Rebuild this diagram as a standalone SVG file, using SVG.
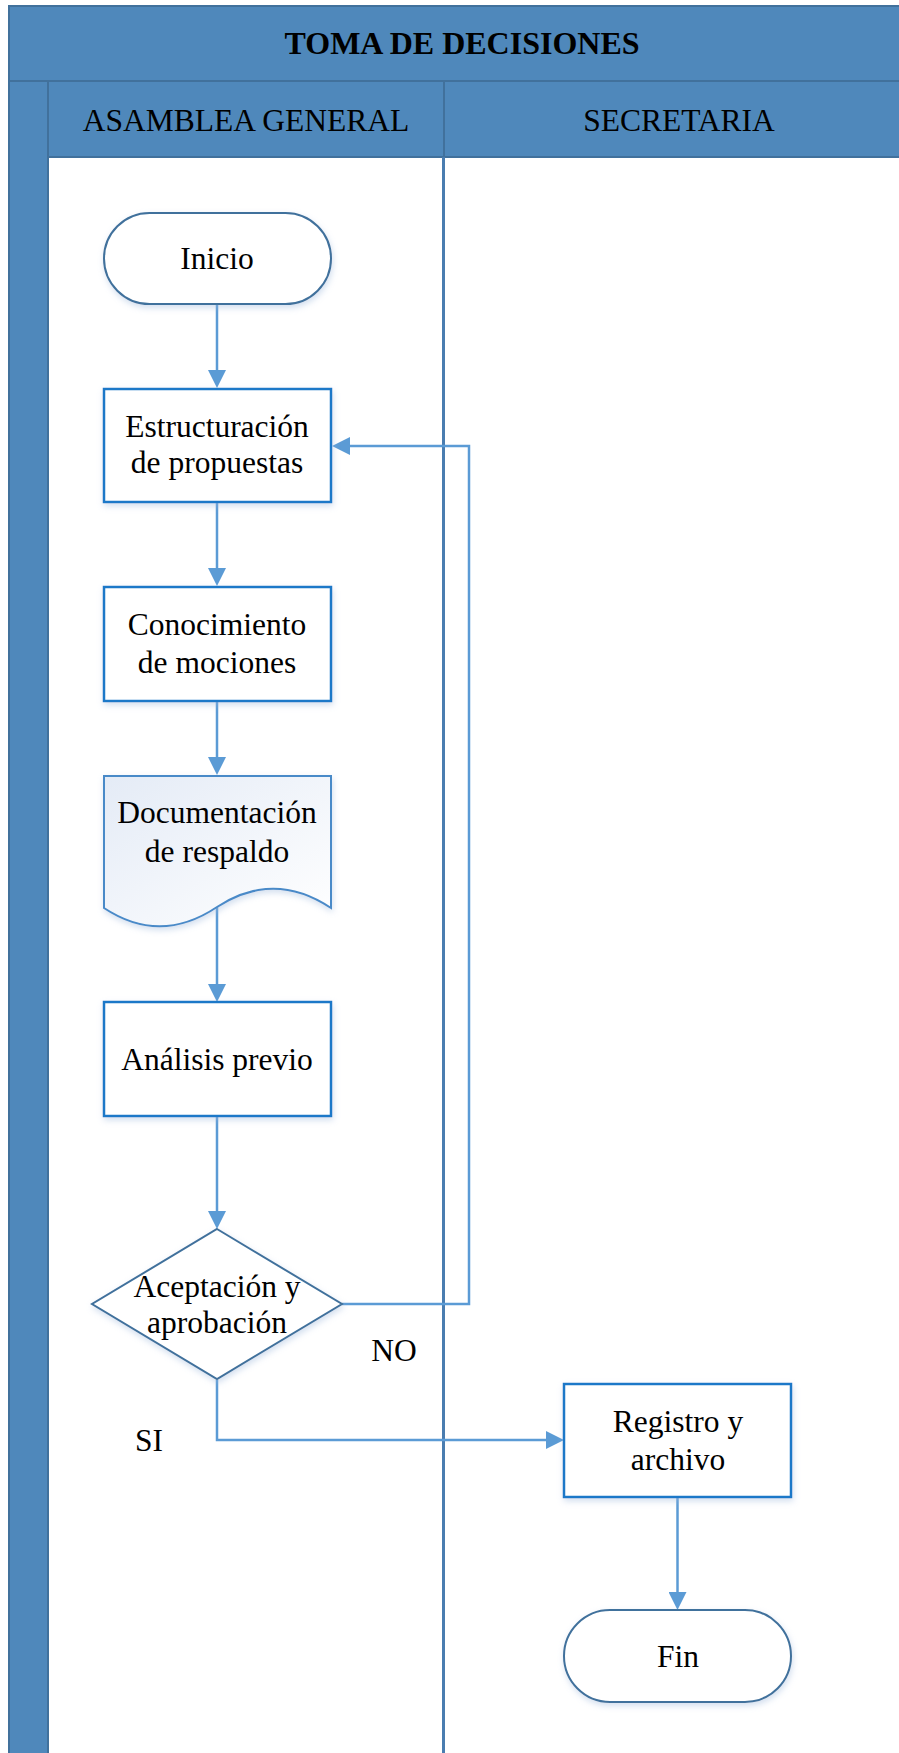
<svg xmlns="http://www.w3.org/2000/svg" width="899" height="1753" viewBox="0 0 899 1753">
  <style>
    .hdr { fill: #4f88bb; stroke: #41719c; stroke-width: 2; }
    .lbl { font-family: "Liberation Serif", "Times New Roman", serif; font-size: 31.5px; fill: #000; text-anchor: middle; }
    .ttl { font-weight: bold; font-size: 32px; }
    .box { fill: #fff; stroke: #1f78c8; stroke-width: 2.5; filter: url(#shadow); }
    .term { fill: #fff; stroke: #41719c; stroke-width: 2; filter: url(#shadow); }
    .dia { fill: #fff; stroke: #41719c; stroke-width: 2; filter: url(#shadow); }
    .doc { fill: url(#docfill); stroke: #4a8ac8; stroke-width: 2; filter: url(#shadow); }
    .conn { fill: none; stroke: #5b9bd5; stroke-width: 2.5; marker-end: url(#arrow); }
    .conn-plain { fill: none; stroke: #5b9bd5; stroke-width: 2.5; }
  </style>
  <defs>
    <marker id="arrow" viewBox="0 0 18 18" refX="14" refY="9" markerWidth="18" markerHeight="18" markerUnits="userSpaceOnUse" orient="auto">
      <path d="M0,0 L18,9 L0,18 Z" fill="#5b9bd5"/>
    </marker>
    <linearGradient id="docfill" x1="0" y1="0" x2="1" y2="1">
      <stop offset="0" stop-color="#e4ebf6"/>
      <stop offset="1" stop-color="#ffffff"/>
    </linearGradient>
    <filter id="shadow" x="-10%" y="-10%" width="130%" height="130%">
      <feDropShadow dx="1" dy="3" stdDeviation="3" flood-color="#9db8db" flood-opacity="0.45"/>
    </filter>
  </defs>

  <!-- pool and lanes -->
  <g id="pool">
    <rect x="0" y="0" width="899" height="1753" fill="#ffffff"/>
    <rect class="hdr" x="9" y="6" width="910" height="75"/>
    <rect class="hdr" x="9" y="81" width="39" height="1680"/>
    <rect class="hdr" x="48" y="81" width="396" height="76"/>
    <rect class="hdr" x="444" y="81" width="475" height="76"/>
    <rect x="49" y="158" width="870" height="1600" fill="#ffffff"/>
    <line x1="443.5" y1="157" x2="443.5" y2="1753" stroke="#4a7db0" stroke-width="3"/>
    <text class="lbl ttl" x="462" y="54">TOMA DE DECISIONES</text>
    <text class="lbl" x="246" y="131">ASAMBLEA GENERAL</text>
    <text class="lbl" x="679" y="131">SECRETARIA</text>
  </g>

  <!-- connectors -->
  <g id="connectors">
    <path class="conn" d="M217,304 V384"/>
    <path class="conn" d="M217,502 V582"/>
    <path class="conn" d="M217,701 V771"/>
    <path class="conn" d="M217,907 V998"/>
    <path class="conn" d="M217,1116 V1225"/>
    <path class="conn" d="M342,1304 H469 V446 H336"/>
    <path class="conn" d="M217,1380 V1440 H560"/>
    <path class="conn" d="M677.5,1497 V1606"/>
  </g>

  <g id="inicio">
    <rect class="term" x="104" y="213" width="227" height="91" rx="45.5"/>
    <text class="lbl" x="217" y="269">Inicio</text>
  </g>

  <g id="estructuracion">
    <rect class="box" x="104" y="389" width="227" height="113"/>
    <text class="lbl" x="217" y="437">Estructuración</text>
    <text class="lbl" x="217" y="473">de propuestas</text>
  </g>

  <g id="conocimiento">
    <rect class="box" x="104" y="587" width="227" height="114"/>
    <text class="lbl" x="217" y="635">Conocimiento</text>
    <text class="lbl" x="217" y="673">de mociones</text>
  </g>

  <g id="documentacion">
    <path class="doc" d="M104,776 H331 V908 Q274,870 217,907 Q160,945 104,908 Z"/>
    <text class="lbl" x="217" y="823">Documentación</text>
    <text class="lbl" x="217" y="862">de respaldo</text>
  </g>

  <g id="analisis">
    <rect class="box" x="104" y="1002" width="227" height="114"/>
    <text class="lbl" x="217" y="1070">Análisis previo</text>
  </g>

  <g id="decision">
    <path class="dia" d="M217,1229 L342,1304 L217,1379 L92,1304 Z"/>
    <text class="lbl" x="217" y="1297">Aceptación y</text>
    <text class="lbl" x="217" y="1333">aprobación</text>
    <text class="lbl" x="394" y="1361">NO</text>
    <text class="lbl" x="149" y="1451">SI</text>
  </g>

  <g id="registro">
    <rect class="box" x="564" y="1384" width="227" height="113"/>
    <text class="lbl" x="678" y="1432">Registro y</text>
    <text class="lbl" x="678" y="1470">archivo</text>
  </g>

  <g id="fin">
    <rect class="term" x="564" y="1610" width="227" height="92" rx="46"/>
    <text class="lbl" x="678" y="1667">Fin</text>
  </g>
</svg>
